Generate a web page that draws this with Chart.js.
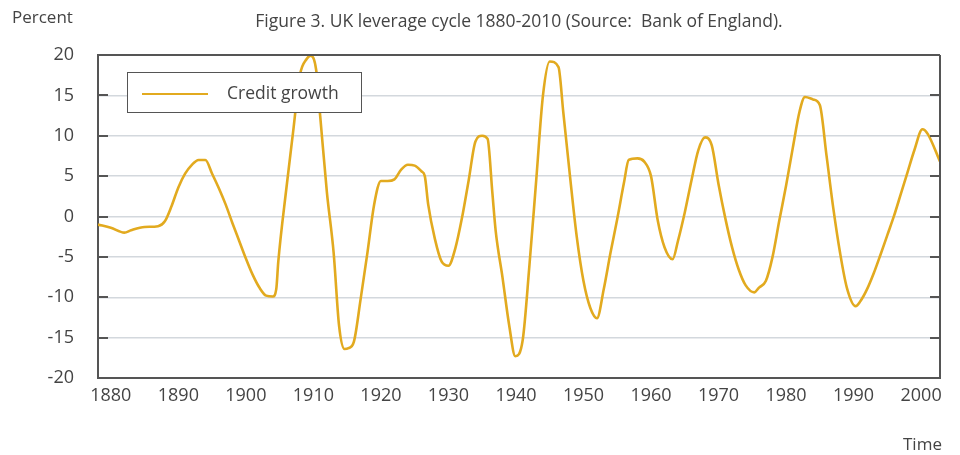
<!DOCTYPE html>
<html>
<head>
<meta charset="utf-8">
<script src="https://cdn.jsdelivr.net/npm/chart.js@4.4.1/dist/chart.umd.min.js"></script>
<style>
html, body { margin: 0; padding: 0; background: #fff; }
#wrap { width: 960px; height: 455px; }
</style>
</head>
<body>
<div id="wrap"><canvas id="chart"></canvas></div>
<script>
// values
var years = [1878.1, 1880, 1882, 1883, 1885, 1887, 1888, 1889, 1890, 1891, 1892, 1893, 1894, 1895, 1896, 1897, 1898, 1899,
  1900, 1901, 1902, 1903, 1904, 1904.5, 1904.8, 1906, 1907, 1908, 1909, 1909.6, 1910.4, 1911, 1912, 1913, 1913.8, 1914.6, 1915.2, 1916, 1917, 1918, 1919,
  1920, 1921, 1922, 1923, 1924, 1925, 1926, 1926.5, 1927, 1928, 1929, 1930, 1931, 1932, 1933, 1934, 1935, 1935.8, 1936.5, 1937, 1938, 1939, 1939.9,
  1941, 1942, 1943, 1944, 1945, 1946.3, 1947, 1948, 1949, 1950, 1951, 1952, 1953, 1954, 1955, 1956, 1956.7, 1958, 1959,
  1960, 1961, 1962, 1963.2, 1964, 1965, 1966, 1967, 1968, 1969, 1970, 1971, 1972, 1973, 1974, 1975.3, 1976, 1977, 1978, 1979,
  1980, 1981, 1982, 1982.8, 1984, 1985, 1986, 1987, 1988, 1989, 1990.3, 1991, 1992, 1993, 1994, 1995, 1996, 1997, 1998, 1999,
  2000.2, 2001, 2002.8];
var creditGrowth = [-1.0, -1.4, -2.0, -1.7, -1.3, -1.2, -0.6, 1.3, 3.6, 5.3, 6.4, 7.0, 7.0, 5.3, 3.5, 1.5, -0.8, -3.0,
  -5.2, -7.2, -8.8, -9.8, -9.9, -9.0, -5.6, 3.5, 10.5, 17.5, 19.5, 19.9, 18.2, 12.5, 3.0, -4.5, -13.5, -16.4, -16.3, -15.5, -10.2, -4.5, 1.5,
  4.4, 4.4, 4.6, 5.8, 6.4, 6.3, 5.6, 5.0, 1.5, -2.8, -5.6, -6.1, -4.0, -0.2, 4.5, 9.3, 10.0, 9.6, 3.0, -1.8, -7.5, -13.5, -17.3,
  -15.3, -6.0, 4.5, 15.0, 19.2, 18.5, 13.0, 5.0, -2.5, -8.0, -11.3, -12.6, -9.0, -4.5, -0.3, 4.2, 7.0, 7.2, 6.8,
  5.0, -0.5, -3.8, -5.3, -3.0, 0.5, 4.5, 8.2, 9.8, 8.8, 4.0, -0.2, -3.8, -6.6, -8.5, -9.4, -8.8, -8.0, -5.0, -0.5,
  3.8, 8.5, 13.0, 14.8, 14.5, 13.8, 7.5, 1.0, -4.5, -8.8, -11.1, -10.5, -9.0, -7.0, -4.7, -2.3, 0.1, 2.8, 5.5, 8.2,
  10.8, 10.2, 6.8];
var xTicks = [1880, 1890, 1900, 1910, 1920, 1930, 1940, 1950, 1960, 1970, 1980, 1990, 2000];
var yTicks = [-20, -15, -10, -5, 0, 5, 10, 15, 20];

var fontFam = "'Open Sans', 'Noto Sans', sans-serif";
var lineColor = '#e2aa1f';
var axisColor = '#555';

// frame, inner tick marks, corner labels and the legend box
var extras = {
  id: 'extras',
  afterDraw: function(chart) {
    var c = chart.ctx, a = chart.chartArea, ys = chart.scales.y;
    c.save();
    c.strokeStyle = axisColor;
    c.lineWidth = 2;
    c.beginPath();
    c.moveTo(a.left, a.top); c.lineTo(a.right, a.top);
    c.moveTo(a.right, a.top); c.lineTo(a.right, a.bottom);
    yTicks.forEach(function(v) {
      if (v == -20 || v == 20) return;
      var py = Math.round(ys.getPixelForValue(v));
      c.moveTo(a.left, py); c.lineTo(a.left + 10, py);
      c.moveTo(a.right - 10, py); c.lineTo(a.right, py);
    });
    c.stroke();

    c.fillStyle = '#444';
    c.font = '17px ' + fontFam;
    c.textBaseline = 'middle';
    c.textAlign = 'left';
    c.fillText('Percent', 12, 18);
    c.fillText('Time', 903, 445);

    // legend
    c.fillStyle = '#fff';
    c.fillRect(127, 72, 234, 40);
    c.strokeStyle = axisColor;
    c.lineWidth = 1;
    c.strokeRect(127.5, 72.5, 234, 40);
    c.strokeStyle = lineColor;
    c.lineWidth = 2;
    c.beginPath(); c.moveTo(142, 94); c.lineTo(208, 94); c.stroke();
    c.fillStyle = '#444';
    c.font = '17.5px ' + fontFam;
    c.fillText(chart.data.datasets[0].label, 227, 94);
    c.restore();
  }
};

var ctx = document.getElementById('chart');
var chart = new Chart(ctx, {
  type: 'line',
  data: {
    datasets: [{
      label: 'Credit growth',
      data: years.map(function(y, i) { return { x: y, y: creditGrowth[i] }; }),
      borderColor: lineColor,
      borderWidth: 2.6,
      pointRadius: 0,
      cubicInterpolationMode: 'monotone',
      fill: false
    }]
  },
  options: {
    responsive: true,
    maintainAspectRatio: false,
    animation: false,
    layout: { padding: { top: 0, right: 20, bottom: 0, left: 0 } },
    plugins: {
      legend: { display: false },
      tooltip: { enabled: false },
      title: {
        display: true,
        fullSize: false,
        text: 'Figure 3. UK leverage cycle 1880-2010 (Source:  Bank of England).',
        color: '#444',
        font: { family: fontFam, size: 17.5, weight: 'normal' },
        padding: { top: 11.5, bottom: 22.5 }
      }
    },
    scales: {
      x: {
        type: 'linear',
        min: 1878.1,
        max: 2002.8,
        afterBuildTicks: function(scale) {
          scale.ticks = xTicks.map(function(v) { return { value: v }; });
        },
        afterFit: function(scale) { scale.height = 77; },
        grid: { display: false, drawTicks: false },
        border: { display: true, color: axisColor, width: 2 },
        ticks: {
          color: '#444',
          padding: 7,
          maxRotation: 0,
          font: { family: fontFam, size: 18 },
          callback: function(v) { return String(v); }
        }
      },
      y: {
        min: -20,
        max: 20,
        afterBuildTicks: function(scale) {
          scale.ticks = yTicks.map(function(v) { return { value: v }; });
        },
        afterFit: function(scale) { scale.width = 98; },
        grid: { color: '#d3d8dd', lineWidth: 1.5, drawTicks: false },
        border: { display: true, color: axisColor, width: 2 },
        ticks: {
          color: '#444',
          padding: 24,
          font: { family: fontFam, size: 18 }
        }
      }
    }
  },
  plugins: [extras]
});
</script>
</body>
</html>
